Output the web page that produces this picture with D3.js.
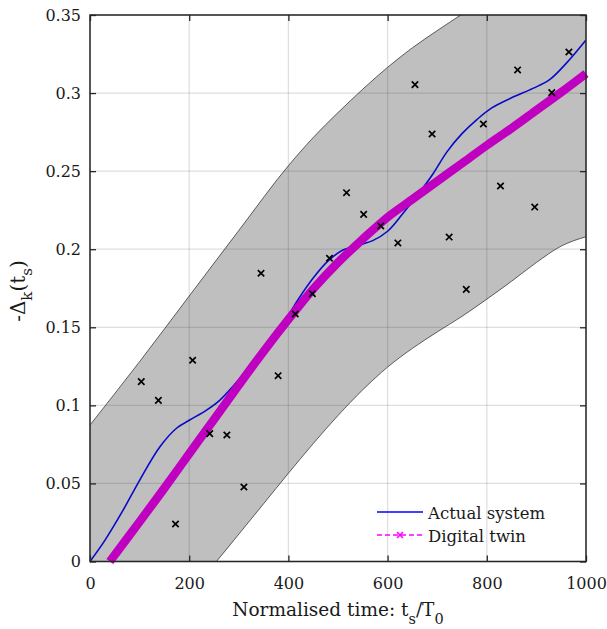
<!DOCTYPE html>
<html>
<head>
<meta charset="utf-8">
<script src="https://cdn.jsdelivr.net/npm/d3@7"></script>
<style>
  html, body { margin: 0; padding: 0; background: #fff; }
  svg { display: block; }
</style>
</head>
<body>
<svg id="chart" width="607" height="629"></svg>
<script>
// ---- data ----
const xTicks = [0, 200, 400, 600, 800, 1000];
const yTicks = [0, 0.05, 0.1, 0.15, 0.2, 0.25, 0.3, 0.35];
const yTickLabels = ["0", "0.05", "0.1", "0.15", "0.2", "0.25", "0.3", "0.35"];

// confidence band
const upperX = [0, 100, 200, 300, 400, 450, 500, 550, 600, 650, 700, 750, 800, 900, 1000];
const upperY = [0.0874, 0.128, 0.170, 0.212, 0.2535, 0.2715, 0.2875, 0.3025, 0.3165, 0.3290, 0.3400, 0.3505, 0.3605, 0.378, 0.393];
const lowerX = [0, 255, 300, 350, 400, 450, 500, 550, 600, 650, 700, 750, 800, 850, 900, 950, 1000];
const lowerY = [-0.1, 0, 0.0175, 0.037, 0.0565, 0.0755, 0.0935, 0.1100, 0.1245, 0.1365, 0.1470, 0.1570, 0.1680, 0.1795, 0.1915, 0.2020, 0.2080];

// actual system
const actualX = [0, 30, 67, 100, 141, 175, 201, 235, 262, 300, 350, 400, 420, 450, 480, 510, 540, 570, 600, 630, 660, 690, 720, 750, 780, 810, 850, 893, 926, 960, 1000];
const actualY = [0, 0.0135, 0.033, 0.052, 0.0735, 0.0855, 0.0906, 0.097, 0.1034, 0.1165, 0.137, 0.158, 0.168, 0.1815, 0.1925, 0.1995, 0.2025, 0.2055, 0.2115, 0.2225, 0.2345, 0.2475, 0.2625, 0.2740, 0.2830, 0.2905, 0.2970, 0.3030, 0.3084, 0.319, 0.334];

// digital twin
const twinX = [40, 100, 150, 200, 250, 300, 350, 400, 450, 500, 550, 600, 650, 700, 750, 800, 850, 900, 950, 1000];
const twinY = [0, 0.0255, 0.047, 0.069, 0.091, 0.113, 0.1345, 0.155, 0.1745, 0.1915, 0.2065, 0.2205, 0.232, 0.2435, 0.255, 0.2665, 0.2775, 0.289, 0.3005, 0.3125];

// measurements
const obsX = [103.4, 137.9, 172.4, 206.9, 241.4, 275.9, 310.3, 344.8, 379.3, 413.8, 448.3, 482.8, 517.2, 551.7, 586.2, 620.7, 655.2, 689.7, 724.1, 758.6, 793.1, 827.6, 862.1, 896.6, 931.0, 965.5];
const obsY = [0.1152, 0.1032, 0.0240, 0.1289, 0.0819, 0.0810, 0.0477, 0.1846, 0.119, 0.1585, 0.1715, 0.1942, 0.2362, 0.2223, 0.2149, 0.204, 0.3054, 0.2738, 0.2078, 0.1743, 0.2802, 0.2405, 0.3148, 0.227, 0.3003, 0.3263];

const legendLabels = ["Actual system", "Digital twin"];

// ---- drawing ----
const FONT = "DejaVu Serif";
const TXT = "#1a1a1a";
const svg = d3.select("#chart");
const L = 90, R = 586, T = 15, B = 561.5;
const x = d3.scaleLinear().domain([0, 1000]).range([L, R]);
const y = d3.scaleLinear().domain([0, 0.35]).range([B, T]);

svg.append("defs").append("clipPath").attr("id", "clip")
  .append("rect").attr("x", L).attr("y", T).attr("width", R - L).attr("height", B - T);

const plot = svg.append("g").attr("clip-path", "url(#clip)");

// band
const upper = upperX.map((d, i) => [d, upperY[i]]);
const lower = lowerX.map((d, i) => [d, lowerY[i]]);
const lineGen = d3.line().x(d => x(d[0])).y(d => y(d[1])).curve(d3.curveMonotoneX);
const bandPath = lineGen(upper) + "L" + lineGen(lower.slice().reverse()).slice(1) + "Z";
plot.append("path").attr("d", bandPath).attr("fill", "#bfbfbf").attr("stroke", "none");
plot.append("path").attr("d", lineGen(upper)).attr("fill", "none").attr("stroke", "#222").attr("stroke-width", 0.7);
plot.append("path").attr("d", lineGen(lower)).attr("fill", "none").attr("stroke", "#222").attr("stroke-width", 0.7);

// grid
const grid = svg.append("g").attr("stroke", "#262626").attr("stroke-opacity", 0.15).attr("stroke-width", 1.3);
xTicks.forEach(t => grid.append("line").attr("x1", x(t)).attr("x2", x(t)).attr("y1", T).attr("y2", B));
yTicks.forEach(t => grid.append("line").attr("x1", L).attr("x2", R).attr("y1", y(t)).attr("y2", y(t)));

// actual system
const smooth = d3.line().x(d => x(d[0])).y(d => y(d[1])).curve(d3.curveCatmullRom.alpha(0.5));
const actual = actualX.map((d, i) => [d, actualY[i]]);
plot.append("path").attr("d", smooth(actual)).attr("fill", "none")
  .attr("stroke", "#0a0ac8").attr("stroke-width", 1.6);

// digital twin
const twin = twinX.map((d, i) => [d, twinY[i]]);
svg.append("path").attr("d", smooth(twin)).attr("fill", "none")
  .attr("stroke", "#c000c0").attr("stroke-width", 8.5);

// measurements
const obs = svg.append("g").attr("stroke", "#000").attr("stroke-width", 1.7);
obsX.forEach((d, i) => {
  const cx = x(d), cy = y(obsY[i]), s = 3.2;
  obs.append("path").attr("d", `M${cx - s},${cy - s}L${cx + s},${cy + s}M${cx - s},${cy + s}L${cx + s},${cy - s}`);
});

// axes box
const axisColor = "#262626";
svg.append("rect").attr("x", L).attr("y", T).attr("width", R - L).attr("height", B - T)
  .attr("fill", "none").attr("stroke", axisColor).attr("stroke-width", 1.5);

const xAxisB = d3.axisBottom(x).tickValues(xTicks).tickSize(-6).tickPadding(16).tickFormat(d3.format("d"));
const xAxisT = d3.axisTop(x).tickValues(xTicks).tickSize(-6).tickFormat("");
const yAxisL = d3.axisLeft(y).tickValues(yTicks).tickSize(-6).tickPadding(9).tickFormat((d, i) => yTickLabels[i]);
const yAxisR = d3.axisRight(y).tickValues(yTicks).tickSize(-6).tickFormat("");

function styleAxis(g) {
  g.attr("font-family", FONT).attr("font-size", 16);
  g.select(".domain").remove();
  g.selectAll(".tick line").attr("stroke", axisColor).attr("stroke-width", 1.3);
  g.selectAll(".tick text").attr("fill", TXT);
}
svg.append("g").attr("transform", `translate(0,${B})`).call(xAxisB).call(styleAxis);
svg.append("g").attr("transform", `translate(0,${T})`).call(xAxisT).call(styleAxis);
svg.append("g").attr("transform", `translate(${L},0)`).call(yAxisL).call(styleAxis);
svg.append("g").attr("transform", `translate(${R},0)`).call(yAxisR).call(styleAxis);

// x label
const xl = svg.append("text").attr("x", (L + R) / 2).attr("y", 616).attr("text-anchor", "middle")
  .attr("fill", TXT).attr("font-family", FONT).attr("font-size", 18.5);
xl.append("tspan").text("Normalised time: t");
xl.append("tspan").attr("dy", 8).attr("font-size", 14.5).text("s");
xl.append("tspan").attr("dy", -8).text("/T");
xl.append("tspan").attr("dy", 8).attr("font-size", 14.5).text("0");

// y label
const yl = svg.append("text").attr("transform", `translate(25,291) rotate(-90)`)
  .attr("text-anchor", "middle").attr("fill", TXT).attr("font-family", FONT).attr("font-size", 20);
yl.append("tspan").text("-Δ");
yl.append("tspan").attr("dy", 7).attr("font-size", 15).text("k");
yl.append("tspan").attr("dy", -7).text("(t");
yl.append("tspan").attr("dy", 7).attr("font-size", 15).text("s");
yl.append("tspan").attr("dy", -7).text(")");

// legend
const lg = svg.append("g").attr("font-family", FONT).attr("font-size", 16.5);
lg.append("line").attr("x1", 377).attr("x2", 423).attr("y1", 512).attr("y2", 512)
  .attr("stroke", "#0000ff").attr("stroke-width", 1.6);
lg.append("text").attr("x", 428).attr("y", 518.5).attr("fill", TXT).text(legendLabels[0]);
lg.append("line").attr("x1", 377).attr("x2", 423).attr("y1", 535).attr("y2", 535)
  .attr("stroke", "#ff00ff").attr("stroke-width", 1.6).attr("stroke-dasharray", "5,3");
lg.append("path").attr("d", "M397,532L403,538M397,538L403,532").attr("stroke", "#ff00ff").attr("stroke-width", 1.6);
lg.append("text").attr("x", 428).attr("y", 541.5).attr("fill", TXT).text(legendLabels[1]);
</script>
</body>
</html>
